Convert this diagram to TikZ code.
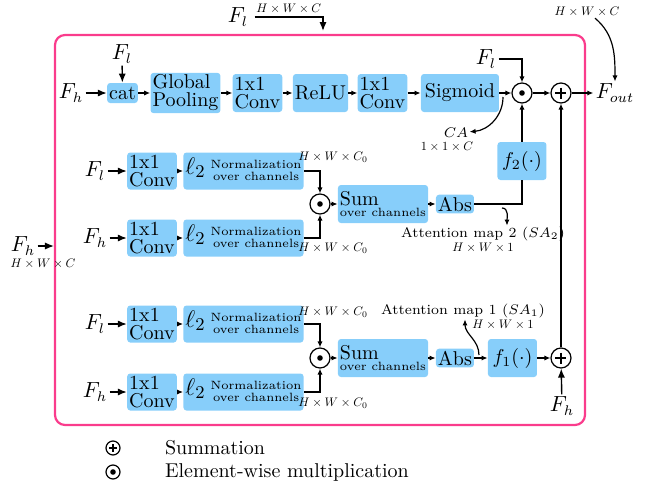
\documentclass[tikz,border=0pt]{standalone}
\usepackage{amsmath}
\usepackage{xcolor}
\usepackage{tikz}
\usetikzlibrary{arrows.meta, positioning, calc}
\definecolor{boxblue}{RGB}{135,206,250}
\definecolor{framepink}{RGB}{250,60,140}
\newcommand{\normtxt}{{\fontsize{12.5}{14}\selectfont$\ell_2$}\hspace{2.5pt}{\fontsize{6}{7}\selectfont\begin{tabular}{@{}c@{}}Normalization\\[-1pt]over channels\end{tabular}}}
\newcommand{\sumtxt}{Sum\\[-3.5pt]{\fontsize{6}{7}\selectfont over channels}}
\newcommand{\dimtxt}[1]{\scalebox{0.62}{$#1$}}

\begin{document}
\begin{tikzpicture}[x=0.5pt, y=-0.5pt,
  blk/.style={fill=boxblue, rounded corners=1.5pt, minimum width=#1, minimum height=19pt,
              inner sep=1pt, align=left, font=\fontsize{10}{9}\selectfont},
  blk/.default=24.5pt,
  nrm/.style={blk=52.5pt, minimum height=18.5pt, align=center},
  addop/.style={circle, draw, line width=0.6pt, minimum size=#1, inner sep=0pt,
    path picture={\draw[line width=0.6pt]
      ($(path picture bounding box.center)!0.55!(path picture bounding box.west)$) --
      ($(path picture bounding box.center)!0.55!(path picture bounding box.east)$)
      ($(path picture bounding box.center)!0.55!(path picture bounding box.north)$) --
      ($(path picture bounding box.center)!0.55!(path picture bounding box.south)$);}},
  addop/.default=10pt,
  mulop/.style={circle, draw, line width=0.6pt, minimum size=#1, inner sep=0pt,
    path picture={\fill (path picture bounding box.center) circle (1.4pt);}},
  mulop/.default=10pt,
  arr/.style={-{Latex[length=3pt,width=2.6pt]}, line width=0.6pt},
  inarr/.style={-{Latex[length=4.5pt,width=3.6pt]}, line width=0.7pt},
  fin/.style={font=\fontsize{10.5}{12}\selectfont, inner sep=1pt},
  dim/.style={inner sep=0.5pt},
  lbl/.style={font=\fontsize{7}{8}\selectfont, inner sep=0.5pt},
]
\useasboundingbox (0,0) rectangle (645,489);
\draw[framepink, line width=1.1pt, rounded corners=5pt] (55,35) rectangle (585,425);

\node[fin, inner sep=3pt] (flTop) at (238,17) {$F_l$};
\coordinate (frameN) at (323,31);
\draw[inarr] (flTop) -| node[dim, above=1pt, pos=0.25] (dimTop) {\dimtxt{H\times W\times C}} (frameN);
\node[fin] (fhL) at (23,246) {$F_h$};
\coordinate (frameW) at (54,246);
\draw[inarr] (fhL) -- (frameW);
\node[dim] (dimL) at (43,264) {\dimtxt{H\times W\times C}};

\node[fin] (fhA) at (71,93) {$F_h$};
\node[fin] (flA) at (122,54) {$F_l$};
\node[blk=14.5pt, minimum height=10pt] (cat) at (122.5,93) {cat};
\node[blk=33.5pt] (pool) at (185.5,93) {Global\\Pooling};
\node[blk] (convA) at (257.5,93) {1x1\\Conv};
\node[blk] (relu) at (320.5,93) {ReLU};
\node[blk] (convB) at (382.5,93) {1x1\\Conv};
\node[blk=39pt] (sig) at (460,93) {Sigmoid};
\node[mulop] (mulA) at (522,93) {};
\node[addop] (addA) at (561,93) {};
\node[fin] (fout) at (615,93) {$F_{out}$};
\node[fin] (flB) at (486,59) {$F_l$};
\node[dim] (dimOut) at (587,12) {\dimtxt{H\times W\times C}};
\node[lbl] (ca) at (456,133) {$CA$};
\node[dim] (dimCa) at (447,147) {\dimtxt{1\times 1\times C}};
\coordinate (caS) at (503,97);
\draw[inarr] (fhA) -- (cat);
\draw[inarr] (flA) -- (cat);
\draw[arr] (cat) -- (pool);
\draw[arr] (pool) -- (convA);
\draw[arr] (convA) -- (relu);
\draw[arr] (relu) -- (convB);
\draw[arr] (convB) -- (sig);
\draw[arr] (sig) -- (mulA);
\draw[arr] (mulA) -- (addA);
\draw[arr] (addA) -- (fout);
\draw[arr] (flB) -| (mulA);
\draw[arr] ([xshift=4pt]dimOut.south) to[out=-40, in=90] (fout.north);
\draw[arr] (caS) to[out=-90, in=5] (ca);

\node[fin] (flC) at (95,171) {$F_l$};
\node[blk=24pt, minimum height=18.5pt] (convC) at (152,171) {1x1\\Conv};
\node[nrm] (nrmC) at (243.5,171) {\normtxt};
\node[fin] (fhD) at (95,238) {$F_h$};
\node[blk=24pt, minimum height=18.5pt] (convD) at (152,238) {1x1\\Conv};
\node[nrm] (nrmD) at (243.5,238) {\normtxt};
\node[dim] (dimC) at (333,157) {\dimtxt{H\times W\times C_0}};
\node[dim] (dimD) at (333,248) {\dimtxt{H\times W\times C_0}};
\node[mulop] (mulB) at (320,204) {};
\node[blk=39pt] (sumB) at (383,204) {\sumtxt};
\node[blk=19pt, minimum height=9pt] (absB) at (455,204) {Abs};
\node[blk] (f2) at (522,161) {$f_2(\cdot)$};
\node[lbl] (sa2) at (483,234) {Attention map 2 $(SA_2)$};
\node[dim] (dimSa2) at (483,248) {\dimtxt{H\times W\times 1}};
\coordinate (saS2) at (502,208);
\draw[inarr] (flC) -- (convC);
\draw[arr] (convC) -- (nrmC);
\draw[inarr] (fhD) -- (convD);
\draw[arr] (convD) -- (nrmD);
\draw[arr] (nrmC) -| (mulB);
\draw[arr] (nrmD) -| (mulB);
\draw[arr] (mulB) -- (sumB);
\draw[arr] (sumB) -- (absB);
\draw[line width=0.6pt] (absB) -| (f2);
\draw[arr] (f2) -- (mulA);
\draw[arr] (saS2) to[out=0, in=90] ([xshift=12pt]sa2.north);

\node[fin] (flE) at (95,324) {$F_l$};
\node[blk=24pt, minimum height=18.5pt] (convE) at (152,324) {1x1\\Conv};
\node[nrm] (nrmE) at (243.5,324) {\normtxt};
\node[fin] (fhF) at (95,392) {$F_h$};
\node[blk=24pt, minimum height=18.5pt] (convF) at (152,392) {1x1\\Conv};
\node[nrm] (nrmF) at (243.5,392) {\normtxt};
\node[dim] (dimE) at (333,312) {\dimtxt{H\times W\times C_0}};
\node[dim] (dimF) at (333,403) {\dimtxt{H\times W\times C_0}};
\node[mulop] (mulC) at (320,358) {};
\node[blk=39pt] (sumC) at (383,358) {\sumtxt};
\node[blk=19pt, minimum height=9pt] (absC) at (455,358) {Abs};
\node[blk] (f1) at (512.5,358) {$f_1(\cdot)$};
\node[addop] (addB) at (561,358) {};
\node[fin] (fhG) at (562,406) {$F_h$};
\node[lbl] (sa1) at (463,311) {Attention map 1 $(SA_1)$};
\node[dim] (dimSa1) at (503,325) {\dimtxt{H\times W\times 1}};
\coordinate (saS1) at (479,355);
\draw[inarr] (flE) -- (convE);
\draw[arr] (convE) -- (nrmE);
\draw[inarr] (fhF) -- (convF);
\draw[arr] (convF) -- (nrmF);
\draw[arr] (nrmE) -| (mulC);
\draw[arr] (nrmF) -| (mulC);
\draw[arr] (mulC) -- (sumC);
\draw[arr] (sumC) -- (absC);
\draw[arr] (absC) -- (f1);
\draw[arr] (f1) -- (addB);
\draw[inarr] (fhG) -- (addB);
\draw[arr] (addB) -- (addA);
\draw[arr] (saS1) to[out=90, in=-90] ([xshift=1pt]sa1.south);

\node[addop=7pt] (legAdd) at (113,448) {};
\node[anchor=west] (legAddTxt) at (158,448) {Summation};
\node[mulop=7pt] (legMul) at (113,472) {};
\node[anchor=west] (legMulTxt) at (158,472) {Element-wise multiplication};
\end{tikzpicture}
\end{document}
